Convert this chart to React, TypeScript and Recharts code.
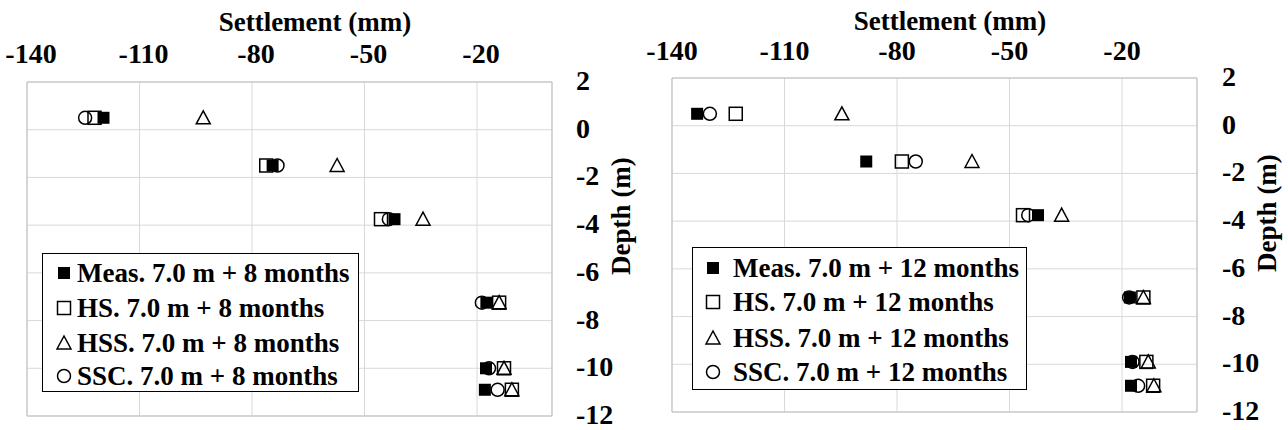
import React from 'react';
import { ScatterChart, Scatter, XAxis, YAxis, CartesianGrid, ReferenceArea, Legend } from 'recharts';

// depth (m) of each reading
const depths8 = [0.5, -1.5, -3.75, -7.25, -10, -10.9];
const meas8 = [-119.6, -74.5, -42, -17.5, -17.6, -17.9];
const hs8 = [-122, -76.2, -45.6, -14.1, -12.8, -10.7];
const hss8 = [-93, -57.3, -34.4, -14.1, -12.8, -10.7];
const ssc8 = [-124.5, -73.2, -43.5, -18.7, -16.8, -14.5];

const depths12 = [0.5, -1.5, -3.75, -7.2, -9.9, -10.9];
const meas12 = [-133.3, -88.2, -42.4, -17.9, -17.6, -17.6];
const hs12 = [-123, -78.7, -46.4, -14.3, -13.5, -11.7];
const hss12 = [-94.7, -60, -36.1, -14.3, -13, -11.5];
const ssc12 = [-129.9, -75, -45, -18.1, -17.2, -15.7];

const xTicks = [-140, -110, -80, -50, -20];
const yTicks = [2, 0, -2, -4, -6, -8, -10, -12];
const seriesPrefixes = ['Meas.', 'HS.', 'HSS.', 'SSC.'];
const kinds = ['filled', 'square', 'triangle', 'circle'];

const FONT = "'Liberation Serif', 'Times New Roman', Times, serif";
const txt = { fontFamily: FONT, fontWeight: 700, fontSize: 27, fill: '#000' } as const;
const tickTxt = { ...txt, fontSize: 28 } as const;

function Marker({ kind, cx, cy }: { kind: string; cx: number; cy: number }) {
  if (kind === 'filled') return <rect x={cx - 6} y={cy - 6} width={12} height={12} fill="#000" />;
  if (kind === 'square')
    return <rect x={cx - 6.5} y={cy - 6.5} width={13} height={13} fill="none" stroke="#000" strokeWidth={1.5} />;
  if (kind === 'triangle')
    return (
      <polygon
        points={`${cx},${cy - 7} ${cx - 7},${cy + 6} ${cx + 7},${cy + 6}`}
        fill="none"
        stroke="#000"
        strokeWidth={1.5}
      />
    );
  return <circle cx={cx} cy={cy} r={6.5} fill="none" stroke="#000" strokeWidth={1.5} />;
}

const shapeFor = (kind: string) => (p: any) => <Marker kind={kind} cx={p.cx} cy={p.cy} />;

const XTick = (p: any) => (
  <text x={p.x + (p.shiftX || 0)} y={p.baseY} textAnchor="middle" style={tickTxt}>
    {p.payload.value}
  </text>
);

const YTick = (p: any) => (
  <text x={p.leftX} y={p.y + 8} textAnchor="start" style={tickTxt}>
    {p.payload.value}
  </text>
);

const AxisTitle = (p: any) =>
  p.rotate ? (
    <text x={p.tx} y={p.ty} transform={`rotate(-90 ${p.tx} ${p.ty})`} textAnchor="middle" style={txt}>
      {p.text}
    </text>
  ) : (
    <text x={p.tx} y={p.ty} textAnchor="middle" style={txt}>
      {p.text}
    </text>
  );

function LegendBox({ names, rows, markX, textX }: any) {
  return (
    <div style={{ position: 'relative', width: '100%', height: '100%', boxSizing: 'border-box', border: '1.5px solid #000', background: '#fff' }}>
      {names.map((name: string, i: number) => (
        <div key={i} style={{ position: 'absolute', left: 0, top: rows[i] - 17, height: 34, width: '100%' }}>
          <svg width={30} height={34} style={{ position: 'absolute', left: markX - 15, top: 0 }}>
            <Marker kind={kinds[i]} cx={15} cy={17} />
          </svg>
          <span
            style={{ position: 'absolute', left: textX, top: 0, lineHeight: '34px', fontFamily: FONT, fontWeight: 700, fontSize: 27, whiteSpace: 'nowrap' }}
          >
            {name}
          </span>
        </div>
      ))}
    </div>
  );
}

function Panel(props: any) {
  const { g, depths, series, months } = props;
  const names = seriesPrefixes.map((s) => `${s} 7.0 m + ${months} months`);
  const sets = series.map((vals: number[]) => vals.map((v, i) => ({ x: v, y: depths[i] })));
  return (
    <ScatterChart width={g.w} height={430} margin={{ top: 0, right: 0, bottom: g.bottom, left: g.left }}>
      <CartesianGrid stroke="#d9d9d9" strokeWidth={1} />
      <XAxis
        type="number"
        dataKey="x"
        orientation="top"
        domain={[-140, 0]}
        ticks={xTicks}
        height={g.xh}
        axisLine={false}
        tickLine={false}
        tick={<XTick baseY={g.tickY} shiftX={g.shiftX} />}
        label={<AxisTitle tx={g.titleX} ty={g.titleY} text="Settlement (mm)" />}
      />
      <YAxis
        type="number"
        dataKey="y"
        orientation="right"
        domain={[-12, 2]}
        ticks={yTicks}
        width={g.yw}
        axisLine={false}
        tickLine={false}
        tick={<YTick leftX={g.yLabelX} />}
        label={<AxisTitle rotate tx={g.depthX} ty={g.depthY} text="Depth (m)" />}
      />
      <ReferenceArea x1={-140} x2={0} y1={-12} y2={2} fill="none" stroke="#bfbfbf" strokeWidth={1} />
      {sets.map((d: any, i: number) => (
        <Scatter key={i} name={names[i]} data={d} shape={shapeFor(kinds[i])} isAnimationActive={false} />
      ))}
      <Legend
        layout="vertical"
        align="center"
        verticalAlign="middle"
        wrapperStyle={{ left: g.lg.left, top: g.lg.top, width: g.lg.width, height: g.lg.height }}
        content={() => <LegendBox names={names} rows={g.lg.rows} markX={g.lg.markX} textX={g.lg.textX} />}
      />
    </ScatterChart>
  );
}

const leftGeom = {
  w: 640, left: 27, bottom: 14, xh: 82, yw: 88,
  tickY: 63, shiftX: 4, titleX: 315, titleY: 31,
  yLabelX: 576, depthX: 630, depthY: 216,
  lg: { left: 42, top: 253, width: 317, height: 139, rows: [19, 54, 89, 122], markX: 21, textX: 34 },
};

const rightGeom = {
  w: 648, left: 32, bottom: 18, xh: 78, yw: 91,
  tickY: 60, shiftX: 0, titleX: 310, titleY: 30,
  yLabelX: 582, depthX: 636, depthY: 213,
  lg: { left: 52, top: 247, width: 335, height: 143, rows: [20, 54, 90, 124], markX: 20, textX: 40 },
};

export default function App() {
  return (
    <div style={{ position: 'absolute', left: 0, top: 0, width: 1288, height: 430, background: '#fff' }}>
      <div style={{ position: 'absolute', left: 0, top: 0 }}>
        <Panel g={leftGeom} depths={depths8} series={[meas8, hs8, hss8, ssc8]} months={8} />
      </div>
      <div style={{ position: 'absolute', left: 640, top: 0 }}>
        <Panel g={rightGeom} depths={depths12} series={[meas12, hs12, hss12, ssc12]} months={12} />
      </div>
    </div>
  );
}
